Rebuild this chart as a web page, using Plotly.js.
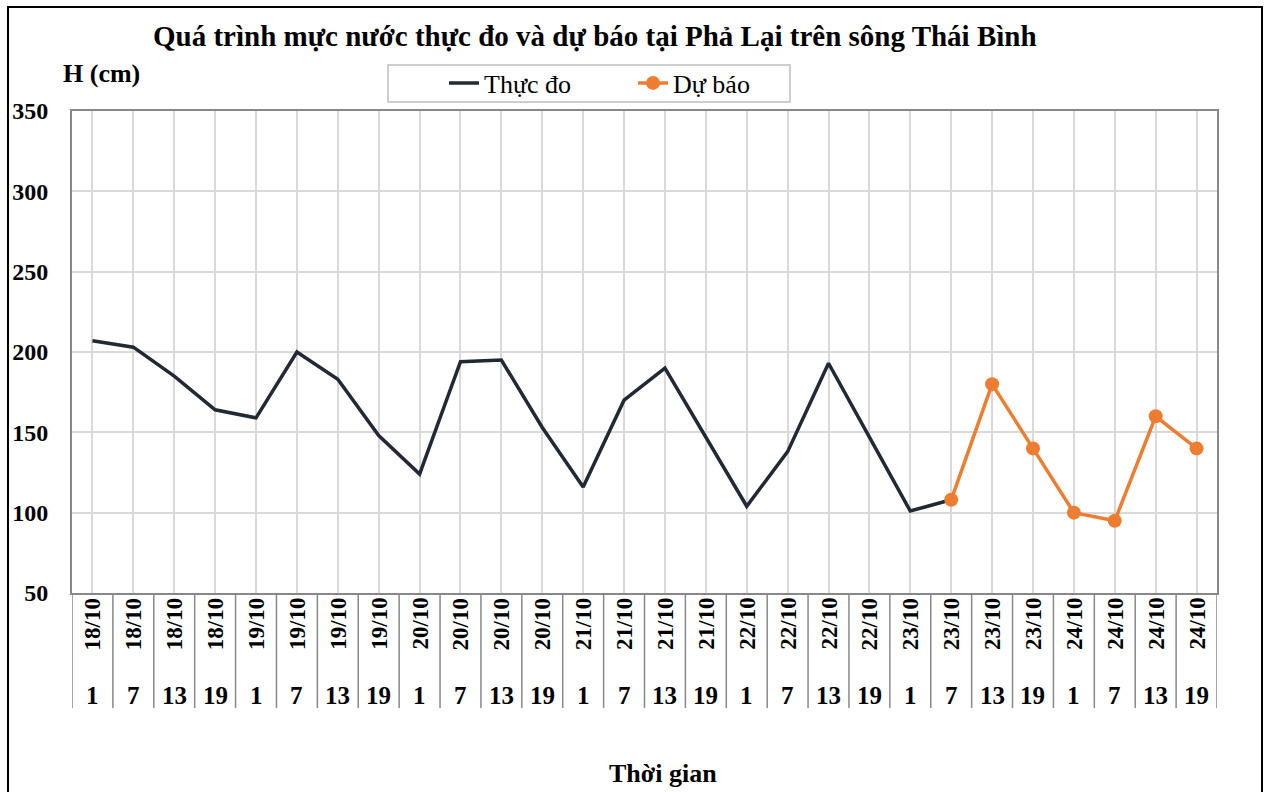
<!DOCTYPE html>
<html><head><meta charset="utf-8">
<script src="https://cdn.plot.ly/plotly-3.0.1.min.js"></script>
<style>body{margin:0;background:#fff}#c{width:1270px;height:792px}</style>
</head><body><div id="c"></div>
<script>
const dates = ["18/10","18/10","18/10","18/10","19/10","19/10","19/10","19/10","20/10","20/10","20/10","20/10","21/10","21/10","21/10","21/10","22/10","22/10","22/10","22/10","23/10","23/10","23/10","23/10","24/10","24/10","24/10","24/10"];
const hours = ["1","7","13","19","1","7","13","19","1","7","13","19","1","7","13","19","1","7","13","19","1","7","13","19","1","7","13","19"];
const observed = [207,203,185,164,159,200,183,148,124,194,195,153,116,170,190,147,104,138,193,147,101,108];
const forecast = [108,180,140,100,95,160,140];
const forecastStart = 21;

const idx = dates.map((d,i)=>i);
const serif = "Liberation Serif, Times New Roman, serif";
const L=72, R=1217, T=111, B=593, W=1270, H=792;
const pw=R-L, ph=B-T;
const px=x=>(x-L)/pw, py=y=>(B-y)/ph;

const traces = [
 {x: idx.slice(0, observed.length), y: observed, name:"Thực đo", mode:"lines",
  line:{color:"#212934", width:3.5}},
 {x: idx.slice(forecastStart, forecastStart+forecast.length), y: forecast, name:"Dự báo", mode:"lines+markers",
  line:{color:"#ED7D31", width:3.5}, marker:{color:"#ED7D31", size:14}}
];

const ann = (text, x, y, size, extra) => Object.assign({text, x, y, xref:"paper", yref:"paper",
  xanchor:"center", yanchor:"middle", showarrow:false, font:{family:serif, size, color:"#000"}}, extra||{});

const annotations = [
 ann("<b>Quá trình mực nước thực đo và dự báo tại Phả Lại trên sông Thái Bình</b>", px(595), py(36), 29),
 ann("<b>H (cm)</b>", px(101), py(73), 26),
 ann("<b>Thời gian</b>", px(663), py(773), 26)
];
const shapes = [];
idx.forEach(i=>{
  annotations.push(ann("<b>"+dates[i]+"</b>", i, py(624), 23, {xref:"x", textangle:-90}));
  annotations.push(ann("<b>"+hours[i]+"</b>", i, py(695), 25, {xref:"x"}));
});
for(let i=0;i<=idx.length;i++){
  shapes.push({type:"line", xref:"x", yref:"paper", x0:i-0.5, x1:i-0.5, y0:0, y1:py(708),
    line:{color:"#888", width:1.5}});
}
shapes.push({type:"rect", xref:"paper", yref:"paper", x0:px(8), x1:px(1262), y0:py(805), y1:py(7),
  line:{color:"#000", width:2}});
shapes.push({type:"rect", xref:"paper", yref:"paper", x0:px(388), x1:px(790), y0:py(102), y1:py(65),
  line:{color:"#bfbfbf", width:1.5}});

const layout = {
 width:W, height:H, margin:{l:L, r:W-R, t:T, b:H-B},
 paper_bgcolor:"#fff", plot_bgcolor:"#fff",
 showlegend:true,
 legend:{orientation:"h", x:px(444), y:py(83), xanchor:"left", yanchor:"middle",
   bgcolor:"rgba(0,0,0,0)", borderwidth:0, font:{family:serif, size:26, color:"#000"},
   entrywidth:144, tracegroupgap:0},
 xaxis:{range:[-0.5, idx.length-0.5], tickvals:idx, showticklabels:false, ticks:"",
   showgrid:true, gridcolor:"#d9d9d9", gridwidth:1.5, zeroline:false,
   showline:true, mirror:true, linecolor:"#888", linewidth:2},
 yaxis:{range:[50,350], dtick:50, showgrid:true, gridcolor:"#d9d9d9", gridwidth:1.5, zeroline:false,
   showline:true, mirror:true, linecolor:"#888", linewidth:2, ticks:"", ticklabelstandoff:17,
   tickfont:{family:serif, size:24, color:"#000"}, tickprefix:"<b>", ticksuffix:"</b>"},
 annotations, shapes
};
Plotly.newPlot("c", traces, layout, {displayModeBar:false});
</script></body></html>
